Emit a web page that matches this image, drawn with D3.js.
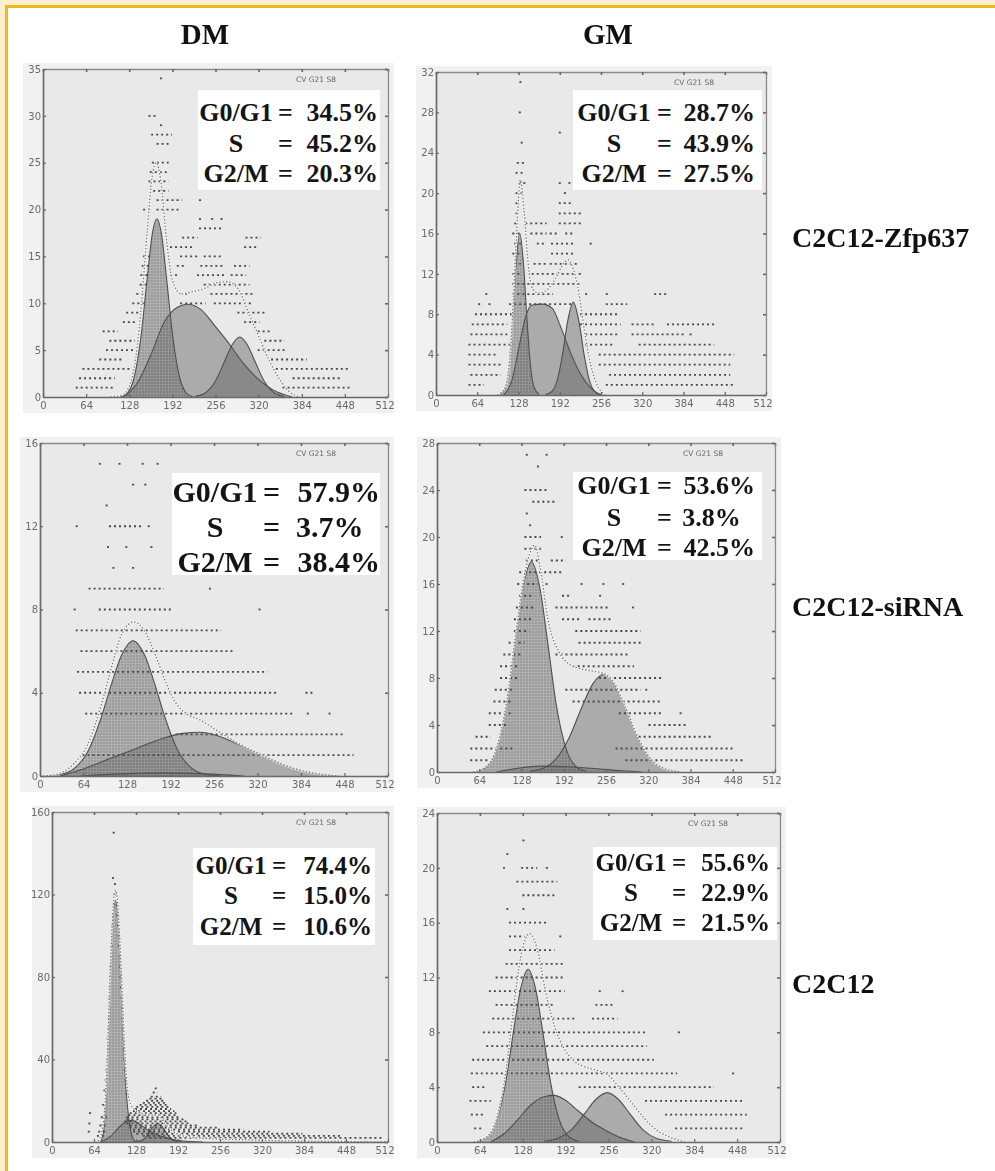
<!DOCTYPE html>
<html>
<head>
<meta charset="utf-8">
<script src="https://cdn.jsdelivr.net/npm/d3@7"></script>
<style>
html, body { margin: 0; padding: 0; background: #fff; }
svg { display: block; }
</style>
</head>
<body>
<svg id="fig" width="995" height="1171"></svg>
<script>
// ---------- values ----------
const channelTicks = [0, 64, 128, 192, 256, 320, 384, 448, 512];
const columnTitles = ["DM", "GM"];
const rowTitles = ["C2C12-Zfp637", "C2C12-siRNA", "C2C12"];
const phaseNames = ["G0/G1", "S", "G2/M"];

// DM, C2C12-Zfp637
const dmZfpYTicks = [0, 5, 10, 15, 20, 25, 30, 35];
const dmZfpStats = ["34.5%", "45.2%", "20.3%"];
const dmZfpG1 = [[115,0],[125,0.4],[135,2],[145,6.2],[155,12.9],[162,17.3],[169,19],[176,17.3],[183,12.9],[193,6.2],[203,2],[213,0.4],[223,0]];
const dmZfpS = [[120,0],[140,1.5],[160,4.5],[180,8],[200,9.6],[215,9.9],[235,9.3],[255,7.6],[275,5.8],[295,3.8],[315,2.2],[340,0.8],[370,0]];
const dmZfpG2 = [[225,0.06],[240,0.4],[255,1.6],[270,3.9],[281,5.6],[292,6.4],[303,5.6],[314,3.9],[329,1.6],[344,0.4],[359,0.06]];
const dmZfpSum = [[100,0],[120,0.3],[135,3],[145,9],[155,18],[162,23.5],[168,25],[175,23],[183,17],[192,12.5],[205,11],[220,11.2],[240,11.6],[258,12.2],[273,12.3],[290,11.5],[305,9],[320,6.5],[335,4],[350,2],[365,0.6],[380,0]];
const dmZfpDots = [
  [1,50,105],[1,357,455],[2,55,105],[2,372,440],[3,60,128],[3,347,455],
  [4,85,118],[4,340,390],[5,95,135],[5,320,357],[6,100,135],[6,330,357],
  [7,90,110],[7,320,335],[8,120,135],[8,300,320],[9,125,140],[9,290,330],
  [10,134,148],[10,205,240],[10,255,310],[11,140,150],[11,205,215],[11,250,310],
  [12,145,152],[12,240,305],[13,146,155],[13,190,200],[13,230,270],[13,280,300],
  [14,148,158],[14,200,210],[14,235,265],[14,285,305],[15,150,160],[15,205,230],[15,240,265],
  [16,190,220],[16,300,315],[17,208,228],[17,302,322],[18,233,265],
  [19,233],[19,251],[19,265],[20,150,160],[20,170,200],[21,170,205],[21,233],
  [22,165,185],[23,158,185],[24,160,185],[25,163,185],[27,170,185],[28,162,190],
  [29,175],[30,158,168],[34,175]
];

// GM, C2C12-Zfp637
const gmZfpYTicks = [0, 4, 8, 12, 16, 20, 24, 28, 32];
const gmZfpStats = ["28.7%", "43.9%", "27.5%"];
const gmZfpG1 = [[100,0.06],[108,0.8],[114,3.3],[119,7.6],[124,12.8],[130,16],[136,12.8],[141,7.6],[146,3.3],[152,0.8],[160,0.06]];
const gmZfpS = [[105,0],[118,1.5],[128,4.5],[138,7.5],[148,8.9],[165,9],[180,8.6],[195,6.5],[210,4],[225,2],[240,0.7],[255,0]];
const gmZfpG2 = [[170,0.05],[180,0.37],[188,1.45],[196,3.9],[204,7.2],[213,9.2],[222,7.2],[230,3.9],[238,1.45],[246,0.37],[256,0.05]];
const gmZfpSum = [[95,0],[108,0.8],[115,4],[120,9.5],[125,16],[131,21.3],[137,18],[143,13],[150,10.5],[160,10.1],[170,10.3],[185,11.5],[198,13],[205,13.4],[213,12.5],[222,10],[230,6.5],[240,3],[250,1],[262,0]];
const gmZfpDots = [
  [1,52,73],[1,265,461],[2,55,99],[2,270,455],[3,52,99],[3,254,455],[4,52,93],[4,254,461],
  [5,52,119],[5,233,275],[5,316,430],[6,55,109],[6,233,280],[6,305,385],[6,395],
  [7,57,109],[7,225,285],[7,305,340],[7,360,430],[8,62,119],[8,225,280],
  [9,67],[9,83],[9,115,212],[9,265,295],[10,78],[10,120,180],[10,233],[10,265],[10,340,358],
  [11,120,225],[12,120,130],[12,150,212],[12,223],[13,123,130],[13,153,170],[13,178,220],
  [14,120,130],[14,180,212],[15,123,130],[15,158,170],[15,180,212],[15,240],
  [16,120,128],[16,148,170],[16,178,186],[16,202,212],[17,123],[17,140,170],[17,192,225],
  [18,125,128],[18,192,225],[19,125,128],[19,192,212],[20,125,135],[20,200],
  [21,130],[21,137],[21,192],[21,207],[22,125,133],[23,127,138],[25,133],[26,192],[28,130],[31,131]
];

// DM, C2C12-siRNA
const dmSiYTicks = [0, 4, 8, 12, 16];
const dmSiStats = ["57.9%", "3.7%", "38.4%"];
const dmSiG1 = [[10,0.01],[30,0.08],[50,0.35],[70,1.15],[90,2.8],[105,4.4],[120,5.8],[137,6.5],[154,5.8],[169,4.4],[184,2.8],[204,1.15],[224,0.35],[244,0.08],[264,0.01]];
const dmSiS = [[60,0],[120,0.1],[180,0.15],[240,0.1],[300,0]];
const dmSiG2 = [[30,0],[60,0.3],[100,0.8],[140,1.3],[180,1.8],[210,2.05],[235,2.1],[260,1.95],[290,1.55],[320,1.1],[350,0.65],[380,0.3],[410,0.1],[440,0]];
const dmSiSum = [[0,0],[20,0.05],[50,0.6],[70,1.5],[90,3.4],[105,5.2],[120,6.8],[138,7.4],[155,6.9],[170,5.8],[185,4.5],[200,3.5],[215,3],[235,2.7],[260,2.2],[290,1.6],[320,1.1],[350,0.65],[380,0.3],[410,0.1],[440,0]];
const dmSiDots = [
  [1,64,460],[2,201,445],[3,68,372],[3,394],[3,426],[4,59,348],[4,392,402],
  [5,56,333],[6,61,284],[7,54,265],[8,51],[8,88,191],[8,323],[9,73,181],[9,250],
  [10,108],[10,137],[11,100],[11,127],[11,164],[12,54],[12,103,151],[12,160],
  [13,98],[14,137],[14,155],[15,88],[15,117],[15,151],[15,173]
];

// GM, C2C12-siRNA
const gmSiYTicks = [0, 4, 8, 12, 16, 20, 24, 28];
const gmSiStats = ["53.6%", "3.8%", "42.5%"];
const gmSiG1 = [[60,0.07],[75,0.44],[90,1.9],[105,5.6],[118,10.9],[130,15.6],[143,17.9],[156,15.6],[168,10.9],[181,5.6],[196,1.9],[211,0.44],[226,0.07]];
const gmSiS = [[90,0],[120,0.3],[160,0.5],[200,0.45],[240,0.3],[280,0.1],[310,0]];
const gmSiG2 = [[140,0.07],[160,0.3],[180,1.1],[200,2.9],[220,5.6],[236,7.5],[252,8.3],[268,7.5],[284,5.6],[304,2.9],[324,1.1],[344,0.3],[364,0.07]];
const gmSiSum = [[55,0],[75,0.5],[90,2],[105,5.8],[118,11.2],[130,16],[140,18.5],[148,19.3],[156,17.5],[168,13],[186,10.1],[200,9.2],[217,8.8],[235,8.6],[252,8.4],[268,7.6],[284,5.7],[304,3],[324,1.1],[344,0.3],[370,0]];
const gmSiDots = [
  [1,52,75],[1,287,464],[2,52,115],[2,272,449],[3,60,80],[3,307,416],[4,80,105],[4,322,378],
  [5,80,110],[5,277,338],[5,369],[6,87,110],[6,207,338],[7,89,115],[7,196,307],[7,317],
  [8,97,120],[8,247,338],[9,97,120],[9,207,297],[10,102,125],[10,181,287],
  [11,110,131],[11,216,307],[12,118,138],[12,211,307],[13,118,141],[13,191,216],[13,231,262],
  [14,121,144],[14,181,257],[14,297],[15,126,146],[15,191,201],[15,247],
  [16,123,151],[16,166],[16,219],[16,252],[16,282],[17,126,189],[18,136,151],[18,174,194],
  [19,134,156],[20,134,156],[20,189],[21,141],[22,136],[23,146,181],[24,134,167],[26,153],[27,136],[27,166]
];

// DM, C2C12
const dmC2YTicks = [0, 40, 80, 120, 160];
const dmC2Stats = ["74.4%", "15.0%", "10.6%"];
const dmC2G1 = [[74,0],[78,4],[82,20],[85,45],[88,75],[91,98],[94,113],[97,117],[100,112],[103,95],[106,75],[109,50],[113,25],[118,9],[123,2],[128,0]];
const dmC2S = [[75,0],[90,3],[105,8],[118,10.5],[130,9.5],[145,6],[160,3.5],[180,1.5],[200,0.5],[230,0]];
const dmC2G2 = [[125,0.04],[135,0.55],[143,2.3],[150,5.5],[155,7.8],[161,9],[167,7.8],[172,5.5],[179,2.3],[187,0.55],[197,0.04]];
const dmC2Sum = [[70,0.5],[76,5],[80,15],[84,38],[88,76],[91,100],[94,117],[97,122],[100,116],[103,100],[106,80],[109,57],[113,33],[118,20],[125,16],[135,14],[150,13],[162,13],[172,9],[185,5],[200,3],[230,1.8],[280,1.2],[350,0.6],[430,0.3],[512,0]];
const dmC2Dots = [
  [2,150,505],[3,140,440],[3,70,78],[4,130,380],[5,125,330],[5,56],[5,72,80],[6,125,290],
  [7,120,250],[8,120,220],[8,74,80],[9,115,210],[9,57],[10,112,205],[11,115,200],
  [12,115,195],[12,76,82],[13,118,190],[14,120,188],[14,58],[15,125,185],[16,128,180],
  [17,130,178],[18,135,175],[18,78,82],[19,140,172],[20,145,170],[21,150,168],[22,152,165],
  [24,155,160],[25,80],[26,158],
  [30,82],[35,83],[40,84],[45,85],[50,85],[55,86],[60,86.5],[65,87],[70,87.5],[75,88],[80,88.5],
  [85,89],[90,90],[95,91],[100,91.5],[105,92],[110,93],[115,94],[120,95],[128,93],[150,94],
  [30,112],[35,111],[40,110],[45,109.5],[50,109],[55,108],[60,107.5],[65,107],[70,106],[75,105],
  [80,104.5],[85,104],[90,103],[95,102],[100,101.5],[105,100.5],[110,99.5],[115,98.5],[120,97],[125,96]
];

// GM, C2C12
const gmC2YTicks = [0, 4, 8, 12, 16, 20, 24];
const gmC2Stats = ["55.6%", "22.9%", "21.5%"];
const gmC2G1 = [[60,0.05],[75,0.38],[90,1.7],[103,4.5],[114,8],[125,11.2],[136,12.6],[147,11.2],[158,8],[169,4.5],[182,1.7],[197,0.38],[212,0.05]];
const gmC2S = [[80,0],[100,0.6],[120,1.6],[140,2.7],[160,3.3],[175,3.4],[190,3.1],[210,2.3],[230,1.5],[250,0.9],[270,0.4],[295,0]];
const gmC2G2 = [[160,0.05],[180,0.25],[200,0.86],[220,2.05],[237,3.1],[254,3.6],[271,3.1],[288,2.05],[308,0.86],[328,0.25],[350,0.05]];
const gmC2Sum = [[55,0],[75,0.4],[90,1.9],[103,5.2],[114,9.6],[125,13.5],[138,15.2],[150,14],[162,11],[175,8.5],[190,6.8],[205,5.9],[220,5.5],[240,5.2],[255,4.9],[270,4.1],[290,2.9],[310,1.7],[330,0.8],[350,0.3],[370,0]];
const gmC2Dots = [
  [1,57,69],[1,357,456],[2,52,69],[2,342,461],[3,50,79],[3,312,456],[4,54,69],[4,213,412],
  [5,52,357],[5,442],[6,54,322],[7,75,312],[8,70,312],[8,361],[9,84,208],[9,233,268],
  [10,89,174],[10,238,263],[11,79,189],[11,243],[11,277],[12,89,189],[13,104,189],
  [14,109,174],[15,109,129],[15,184],[16,109,164],[17,105],[17,129],[18,129,174],
  [19,120,178],[20,100],[20,127,148],[20,164],[21,105],[22,129]
];

// ---------- layout (pixel positions) ----------
const panels = [
  { id: "dmZfp", yTicks: dmZfpYTicks, stats: dmZfpStats, g1: dmZfpG1, s: dmZfpS, g2: dmZfpG2, sum: dmZfpSum, dots: dmZfpDots,
    plot: [43, 69, 388, 397], box: [198, 90, 380, 190], rows: [112, 143, 173], font: 26, labelX: 236, eqX: 278, numX: 378 },
  { id: "gmZfp", yTicks: gmZfpYTicks, stats: gmZfpStats, g1: gmZfpG1, s: gmZfpS, g2: gmZfpG2, sum: gmZfpSum, dots: gmZfpDots,
    plot: [436, 72, 766, 395], box: [573, 90, 762, 190], rows: [112, 143, 173], font: 26, labelX: 614, eqX: 657, numX: 755 },
  { id: "dmSi", yTicks: dmSiYTicks, stats: dmSiStats, g1: dmSiG1, s: dmSiS, g2: dmSiG2, sum: dmSiSum, dots: dmSiDots,
    plot: [40, 443, 388, 776], box: [172, 473, 380, 575], rows: [492, 527, 562], font: 30, labelX: 215, eqX: 263, numX: 380 },
  { id: "gmSi", yTicks: gmSiYTicks, stats: gmSiStats, g1: gmSiG1, s: gmSiS, g2: gmSiG2, sum: gmSiSum, dots: gmSiDots,
    plot: [437, 443, 775, 772], box: [573, 472, 762, 560], rows: [485, 517, 547], font: 26, labelX: 614, eqX: 657, numX: 755 },
  { id: "dmC2", yTicks: dmC2YTicks, stats: dmC2Stats, g1: dmC2G1, s: dmC2S, g2: dmC2G2, sum: dmC2Sum, dots: dmC2Dots,
    plot: [52, 812, 388, 1142], box: [193, 848, 375, 945], rows: [865, 895, 926], font: 25, labelX: 231, eqX: 272, numX: 372 },
  { id: "gmC2", yTicks: gmC2YTicks, stats: gmC2Stats, g1: gmC2G1, s: gmC2S, g2: gmC2G2, sum: gmC2Sum, dots: gmC2Dots,
    plot: [437, 813, 780, 1142], box: [593, 847, 777, 940], rows: [862, 892, 922], font: 25, labelX: 631, eqX: 672, numX: 770 }
];

const serif = "'Liberation Serif', 'Times New Roman', serif";
const svg = d3.select("#fig");
const defs = svg.append("defs");

defs.append("filter").attr("id", "scan")
  .attr("x", "-5%").attr("y", "-5%").attr("width", "110%").attr("height", "110%")
  .append("feGaussianBlur").attr("stdDeviation", 0.45);

// fine grid texture seen inside the G0/G1 peak
const pat = defs.append("pattern").attr("id", "grid")
  .attr("width", 3).attr("height", 3).attr("patternUnits", "userSpaceOnUse");
pat.append("rect").attr("width", 3).attr("height", 3).attr("fill", "#5c5c5c");
pat.append("path").attr("d", "M0,0.5H3M0.5,0V3").attr("stroke", "#8c8c8c").attr("stroke-width", 0.7);

// page frame: cream edge + yellow rule on top and left
svg.append("rect").attr("x", 0).attr("y", 0).attr("width", 995).attr("height", 1171).attr("fill", "#fff");
svg.append("rect").attr("x", 0).attr("y", 0).attr("width", 995).attr("height", 5).attr("fill", "#fdf0d2");
svg.append("rect").attr("x", 0).attr("y", 0).attr("width", 5).attr("height", 1171).attr("fill", "#fdf0d2");
svg.append("rect").attr("x", 5).attr("y", 5).attr("width", 990).attr("height", 3).attr("fill", "#f4b71a");
svg.append("rect").attr("x", 5).attr("y", 5).attr("width", 3).attr("height", 1166).attr("fill", "#f4b71a");

function drawPanel(p) {
  const [L, T, R, B] = p.plot;
  const yMax = p.yTicks[p.yTicks.length - 1];
  const x = d3.scaleLinear().domain([0, 512]).range([L, R]);
  const y = d3.scaleLinear().domain([0, yMax]).range([B, T]);

  const g = svg.append("g").attr("filter", "url(#scan)");
  g.append("rect").attr("x", L - 20).attr("y", T - 6)
    .attr("width", R - L + 26).attr("height", B - T + 22).attr("fill", "#f1f1f1");
  g.append("rect").attr("x", L).attr("y", T)
    .attr("width", R - L).attr("height", B - T).attr("fill", "#e9e9e9");

  const clipId = "clip-" + p.id;
  defs.append("clipPath").attr("id", clipId)
    .append("rect").attr("x", L).attr("y", T).attr("width", R - L).attr("height", B - T);
  const inner = g.append("g").attr("clip-path", `url(#${clipId})`);

  const area = d3.area().x(d => x(d[0])).y0(y(0)).y1(d => y(d[1])).curve(d3.curveMonotoneX);
  const line = d3.line().x(d => x(d[0])).y(d => y(d[1])).curve(d3.curveMonotoneX);

  inner.append("path").datum(p.s).attr("d", area).attr("fill", "#606060").attr("fill-opacity", 0.45);
  inner.append("path").datum(p.g2).attr("d", area).attr("fill", "#606060").attr("fill-opacity", 0.45);
  inner.append("path").datum(p.g1).attr("d", area).attr("fill", "url(#grid)").attr("fill-opacity", 0.55);

  [p.s, p.g2, p.g1].forEach(c => {
    inner.append("path").datum(c).attr("d", line)
      .attr("fill", "none").attr("stroke", "#505050").attr("stroke-width", 1.1);
  });

  // histogram counts (rows of channel dots)
  inner.selectAll("line.dot").data(p.dots).join("line")
    .attr("class", "dot")
    .attr("x1", d => x(d[1]) - 1)
    .attr("x2", d => x(d.length > 2 ? d[2] : d[1]) + 1)
    .attr("y1", d => y(d[0]))
    .attr("y2", d => y(d[0]))
    .attr("stroke", "#4a4a4a").attr("stroke-width", 1.8)
    .attr("stroke-dasharray", "2,3");

  // fitted total (dotted light line)
  inner.append("path").datum(p.sum).attr("d", line)
    .attr("fill", "none").attr("stroke", "#fafafa").attr("stroke-width", 2).attr("stroke-opacity", 0.85);
  inner.append("path").datum(p.sum).attr("d", line)
    .attr("fill", "none").attr("stroke", "#7a7a7a").attr("stroke-width", 1.3)
    .attr("stroke-dasharray", "1.5,1.8");

  // frame axes
  const top = g.append("g").attr("transform", `translate(0,${T})`)
    .call(d3.axisTop(x).tickValues(channelTicks).tickSize(-3).tickSizeOuter(0).tickFormat(""));
  const right = g.append("g").attr("transform", `translate(${R},0)`)
    .call(d3.axisRight(y).tickValues(p.yTicks).tickSize(-3).tickSizeOuter(0).tickFormat(""));
  [top, right].forEach(a => {
    a.select(".domain").attr("stroke", "#8a8a8a").attr("stroke-width", 1.3);
    a.selectAll(".tick line").attr("stroke", "#666").attr("stroke-width", 1.6);
  });

  const bottom = g.append("g").attr("transform", `translate(0,${B})`)
    .call(d3.axisBottom(x).tickValues(channelTicks).tickSize(-3).tickSizeOuter(0).tickPadding(5));
  const left = g.append("g").attr("transform", `translate(${L},0)`)
    .call(d3.axisLeft(y).tickValues(p.yTicks).tickSize(-3).tickSizeOuter(0).tickPadding(2));
  [bottom, left].forEach(a => {
    a.select(".domain").attr("stroke", "#6a6a6a").attr("stroke-width", 1.7);
    a.selectAll(".tick line").attr("stroke", "#666").attr("stroke-width", 1.2);
    a.selectAll(".tick text")
      .attr("fill", "#6a6a6a")
      .attr("font-family", "'DejaVu Sans', sans-serif")
      .attr("font-size", 10);
  });
  bottom.selectAll(".tick text").filter(d => d === 512).attr("text-anchor", "end").attr("dx", 6);

  g.append("text").attr("x", R - 52).attr("y", T + 13)
    .attr("text-anchor", "end")
    .attr("font-family", "'DejaVu Sans', sans-serif").attr("font-size", 7.5)
    .attr("fill", "#666").text("CV G21 S8");

  // phase percentages
  const [bx0, by0, bx1, by1] = p.box;
  const sg = svg.append("g");
  sg.append("rect").attr("x", bx0).attr("y", by0)
    .attr("width", bx1 - bx0).attr("height", by1 - by0).attr("fill", "#fff");
  phaseNames.forEach((name, i) => {
    const base = p.rows[i] + p.font * 0.34;
    const common = t => t.attr("y", base).attr("font-family", serif)
      .attr("font-weight", "bold").attr("font-size", p.font).attr("fill", "#141414");
    sg.append("text").call(common).attr("x", p.labelX).attr("text-anchor", "middle").text(name);
    sg.append("text").call(common).attr("x", p.eqX).text("=");
    const v = p.stats[i];
    sg.append("text").call(common).attr("x", p.numX).attr("text-anchor", "end")
      .attr("dx", parseFloat(v) < 10 ? "-0.55em" : 0).text(v);
  });
}

panels.forEach(drawPanel);

// column and row titles
const colX = [205, 608];
columnTitles.forEach((t, i) => {
  svg.append("text").attr("x", colX[i]).attr("y", 44)
    .attr("text-anchor", "middle")
    .attr("font-family", serif).attr("font-weight", "bold").attr("font-size", 29)
    .attr("fill", "#111").text(t);
});
const rowY = [238, 607, 984];
rowTitles.forEach((t, i) => {
  svg.append("text").attr("x", 792).attr("y", rowY[i] + 9)
    .attr("font-family", serif).attr("font-weight", "bold").attr("font-size", 28)
    .attr("fill", "#111").text(t);
});
</script>
</body>
</html>
